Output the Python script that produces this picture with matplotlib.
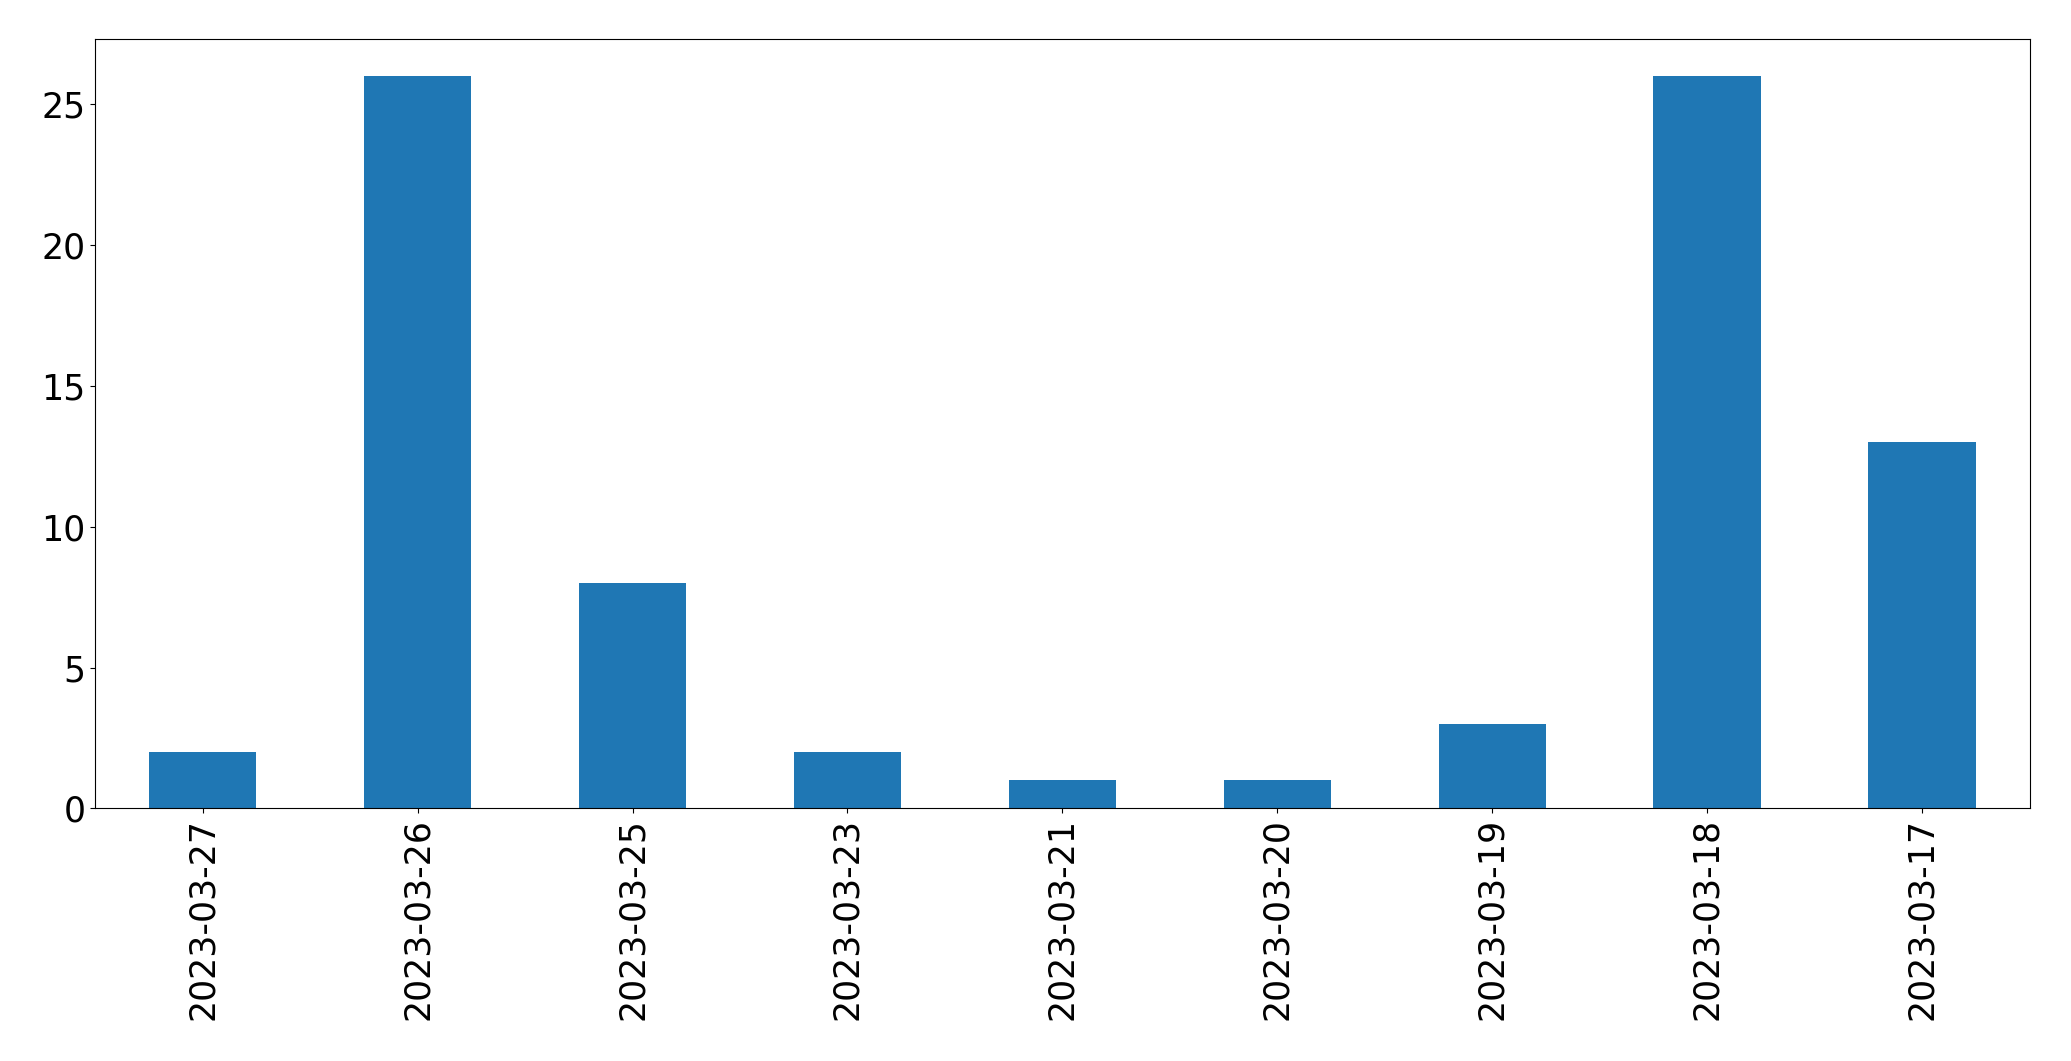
import matplotlib
matplotlib.use("Agg")
import matplotlib.pyplot as plt

dates = ["2023-03-27", "2023-03-26", "2023-03-25", "2023-03-23", "2023-03-21",
         "2023-03-20", "2023-03-19", "2023-03-18", "2023-03-17"]
counts = [2, 26, 8, 2, 1, 1, 3, 26, 13]

fig = plt.figure(figsize=(20.71, 10.61), dpi=100)
ax = fig.add_axes([0.046, 0.238, 0.934, 0.725])
x = range(len(dates))
ax.bar(x, counts, width=0.5, color="#1f77b4")
ax.set_xlim(-0.5, len(dates) - 0.5)
ax.set_xticks(list(x))
ax.set_xticklabels(dates, rotation=90)
ax.tick_params(labelsize=25)
fig.savefig("out.png", dpi=100)
